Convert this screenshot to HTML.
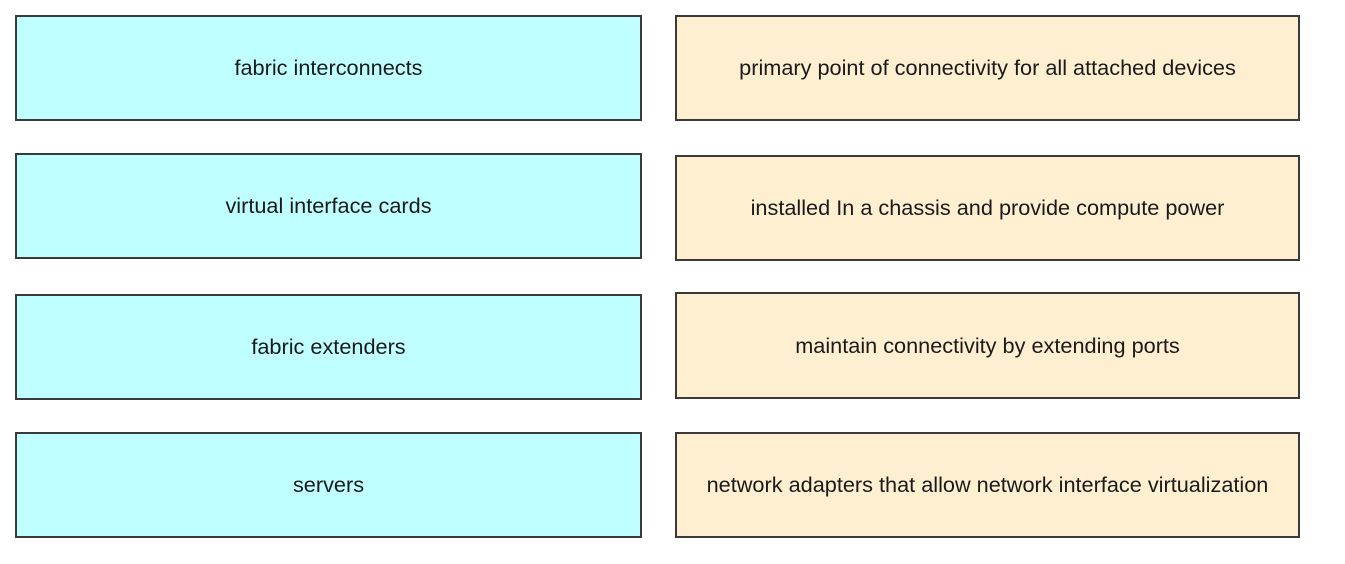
<!DOCTYPE html>
<html><head><meta charset="utf-8"><style>
html,body{margin:0;padding:0;background:#fff;}
body{width:1345px;height:564px;position:relative;overflow:hidden;font-family:"Liberation Sans",sans-serif;}
.b{position:absolute;box-sizing:border-box;border:2px solid #3a3a3a;display:flex;align-items:center;justify-content:center;font-size:21.7px;color:#1a1a1a;}
.l{left:15px;width:627px;background:#c0ffff;}
.r{left:675px;width:625px;background:#fdefd0;}
</style></head><body>
<div class="b l" style="top:15px;height:106px">fabric interconnects</div>
<div class="b l" style="top:153px;height:106px">virtual interface cards</div>
<div class="b l" style="top:294px;height:106px">fabric extenders</div>
<div class="b l" style="top:432px;height:106px">servers</div>
<div class="b r" style="top:15px;height:106px">primary point of connectivity for all attached devices</div>
<div class="b r" style="top:155px;height:106px">installed In a chassis and provide compute power</div>
<div class="b r" style="top:292px;height:107px">maintain connectivity by extending ports</div>
<div class="b r" style="top:432px;height:106px">network adapters that allow network interface virtualization</div>
</body></html>
